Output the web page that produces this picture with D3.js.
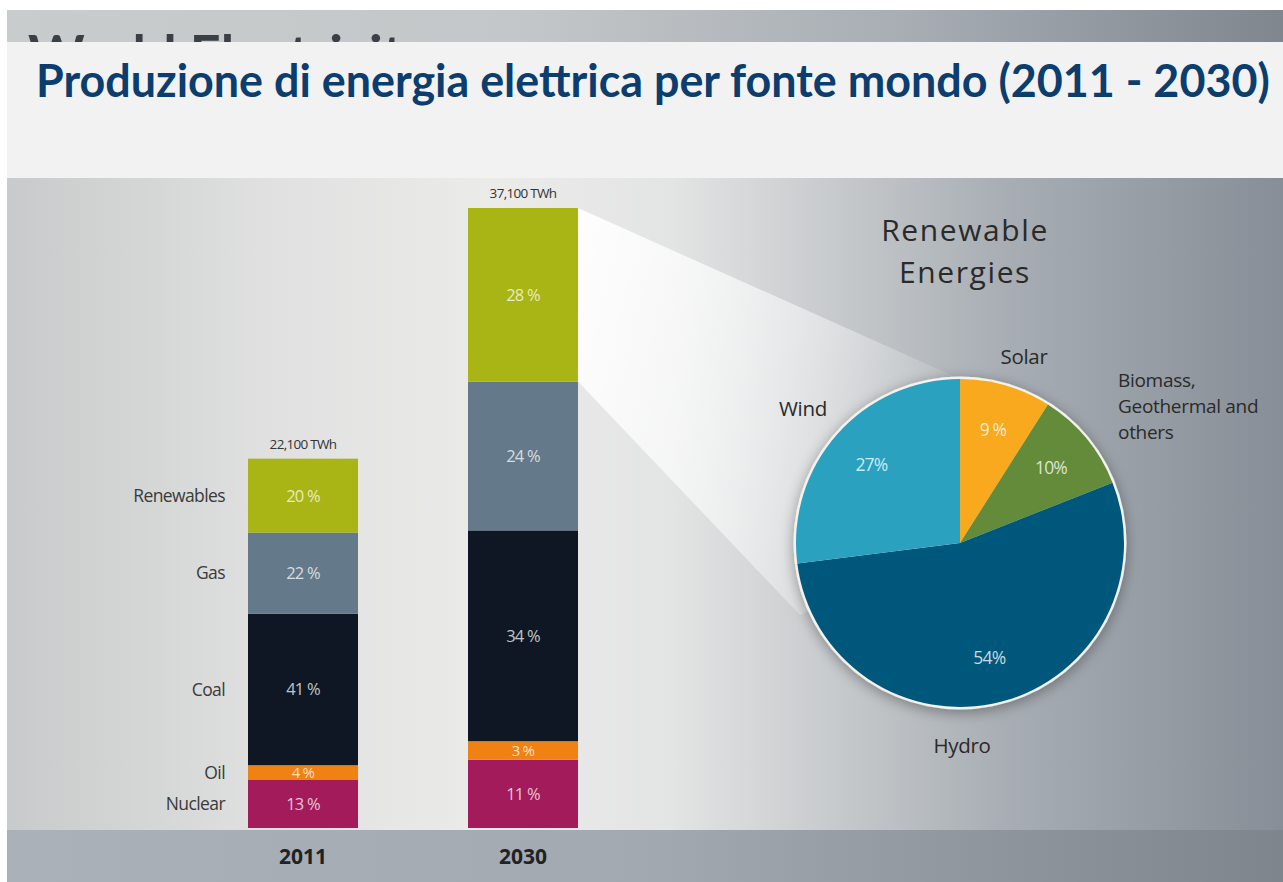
<!DOCTYPE html>
<html>
<head>
<meta charset="utf-8">
<script src="https://cdn.jsdelivr.net/npm/d3@7"></script>
<style>
  body { margin: 0; background: #fff; }
  svg { display: block; }
</style>
</head>
<body>
<script>
'use strict';

// data
const years = ['2011', '2030']
const totals = [22100, 37100] // TWh
const sources = ['Nuclear', 'Oil', 'Coal', 'Gas', 'Renewables'] // bottom -> top
const share2011 = [13, 4, 41, 22, 20]
const share2030 = [11, 3, 34, 24, 28]
const renewables = ['Solar', 'Biomass', 'Hydro', 'Wind']
const renewShare = [9, 10, 54, 27]
const renewLabels = ['9 %', '10%', '54%', '27%']

const colors = {
  Nuclear: '#a31b5b',
  Oil: '#f08214',
  Coal: '#0e1723',
  Gas: '#647a8a',
  Renewables: '#a9b514',
  Solar: '#f8a91d',
  Biomass: '#638b3a',
  Hydro: '#00577c',
  Wind: '#2aa1bf'
}

const m = {
  width: 1283,
  height: 882,
  left: 7,
  top: 10,
  bodyTop: 178,
  stripTop: 830
}

let svg = d3.select('body')
  .append('svg')
  .attr('width', m.width)
  .attr('height', m.height)

let defs = svg.append('defs')

// gradients for the backdrop
function hGradient(id, stops) {
  let g = defs.append('linearGradient').attr('id', id)
    .attr('x1', 0).attr('x2', 1).attr('y1', 0).attr('y2', 0)
  stops.forEach((s) => g.append('stop').attr('offset', s[0]).attr('stop-color', s[1]))
}
hGradient('bgMain', [[0, '#c8cbcb'], [0.2, '#dfe0df'], [0.38, '#ebebea'], [0.52, '#e3e4e4'],
  [0.64, '#c9ccce'], [0.78, '#a8aeb4'], [1, '#878e97']])
hGradient('bgTop', [[0, '#c9cccc'], [0.4, '#c4c7c9'], [0.7, '#a8aeb4'], [1, '#80868e']])
hGradient('bgStrip', [[0, '#aab1b8'], [0.5, '#a2a9b0'], [1, '#7e858d']])

let wedgeGrad = defs.append('linearGradient').attr('id', 'wedge')
  .attr('x1', 0).attr('x2', 1).attr('y1', 0).attr('y2', 0.3)
wedgeGrad.append('stop').attr('offset', 0).attr('stop-color', '#fff').attr('stop-opacity', 0.95)
wedgeGrad.append('stop').attr('offset', 0.6).attr('stop-color', '#fff').attr('stop-opacity', 0.5)
wedgeGrad.append('stop').attr('offset', 1).attr('stop-color', '#fff').attr('stop-opacity', 0.1)

defs.append('filter').attr('id', 'shadow')
  .attr('x', '-20%').attr('y', '-20%').attr('width', '140%').attr('height', '140%')
  .append('feDropShadow')
  .attr('dx', 0).attr('dy', 3).attr('stdDeviation', 7)
  .attr('flood-color', '#000').attr('flood-opacity', 0.35)

defs.append('clipPath').attr('id', 'topClip')
  .append('rect').attr('x', m.left).attr('y', m.top)
  .attr('width', m.width - m.left).attr('height', 32)

// backdrop
svg.append('rect').attr('x', m.left).attr('y', m.top)
  .attr('width', m.width - m.left).attr('height', m.bodyTop - m.top)
  .style('fill', 'url(#bgTop)')

// the original slide title, mostly hidden behind the white box
svg.append('g')
  .attr('clip-path', 'url(#topClip)')
  .append('text')
  .attr('x', 28).attr('y', 74)
  .style('font-family', 'Lato, sans-serif')
  .style('font-weight', 'bold')
  .style('font-size', '54px')
  .style('fill', '#3b4047')
  .text('World Electricity')

svg.append('rect').attr('x', m.left).attr('y', 42)
  .attr('width', m.width - m.left).attr('height', m.bodyTop - 42)
  .style('fill', '#f2f2f2')

// title: size the font so the line spans the same width as the reference
let titleText = svg.append('text')
  .attr('x', 36).attr('y', 97)
  .style('font-family', 'Lato, sans-serif')
  .style('font-weight', 'bold')
  .style('font-size', '50px')
  .style('fill', '#0b3d6f')
  .text('Produzione di energia elettrica per fonte mondo (2011 - 2030)')
let natural = titleText.node().getComputedTextLength()
titleText.style('font-size', (50 * 1234 / natural) + 'px')

svg.append('rect').attr('x', m.left).attr('y', m.bodyTop)
  .attr('width', m.width - m.left).attr('height', m.stripTop - m.bodyTop)
  .style('fill', 'url(#bgMain)')
svg.append('rect').attr('x', m.left).attr('y', m.stripTop)
  .attr('width', m.width - m.left).attr('height', m.height - m.stripTop)
  .style('fill', 'url(#bgStrip)')

// scales
let xScale = d3.scaleBand()
  .domain(years)
  .range([193, 633])
  .paddingInner(0.5)
  .paddingOuter(0.25)

let yScale = d3.scaleLinear()
  .domain([0, 37100])
  .range([828, 208])

// stack the shares into TWh segments
function makeSegments(year, total, shares) {
  let acc = 0
  return shares.map((s, i) => {
    let v0 = acc
    acc += total * s / 100
    return { year: year, source: sources[i], share: s, v0: v0, v1: acc }
  })
}
let segs2011 = makeSegments(years[0], totals[0], share2011)
let segs2030 = makeSegments(years[1], totals[1], share2030)
let allSegs = segs2011.concat(segs2030)

// pie geometry
const pie = { cx: 960, cy: 543, r: 164 }
let ren2030 = segs2030[sources.indexOf('Renewables')]
let barRight = xScale(years[1]) + xScale.bandwidth()

// zoom wedge from the 2030 renewables block to the pie
let wedgePts = [
  [barRight, yScale(ren2030.v1)],
  [pie.cx, pie.cy - pie.r],
  [pie.cx, pie.cy],
  [pie.cx - 160, pie.cy + 72],
  [barRight, yScale(ren2030.v0)]
]
svg.append('polygon')
  .attr('points', wedgePts.map((p) => p.join(',')).join(' '))
  .style('fill', 'url(#wedge)')

// bars
svg.selectAll('rect.seg')
  .data(allSegs)
  .enter()
  .append('rect')
  .attr('class', 'seg')
  .attr('x', (d) => xScale(d.year))
  .attr('width', xScale.bandwidth())
  .attr('y', (d) => yScale(d.v1))
  .attr('height', (d) => yScale(d.v0) - yScale(d.v1))
  .style('fill', (d) => colors[d.source])

svg.selectAll('text.pct')
  .data(allSegs)
  .enter()
  .append('text')
  .attr('class', 'pct')
  .attr('x', (d) => xScale(d.year) + xScale.bandwidth() / 2)
  .attr('y', (d) => (yScale(d.v0) + yScale(d.v1)) / 2)
  .attr('dy', '0.36em')
  .attr('text-anchor', 'middle')
  .style('font-family', '"Open Sans", sans-serif')
  .style('font-size', (d) => d.share < 5 ? '15px' : '16.5px')
  .style('letter-spacing', '-0.8px')
  .style('fill', '#fff')
  .style('fill-opacity', 0.75)
  .text((d) => d.share + ' %')

// category names beside the 2011 bar
svg.selectAll('text.cat')
  .data(segs2011)
  .enter()
  .append('text')
  .attr('class', 'cat')
  .attr('x', xScale(years[0]) - 23)
  .attr('y', (d) => (yScale(d.v0) + yScale(d.v1)) / 2)
  .attr('dy', '0.36em')
  .attr('text-anchor', 'end')
  .style('font-family', '"Open Sans", sans-serif')
  .style('font-size', '17.5px')
  .style('letter-spacing', '-0.6px')
  .style('fill', '#3a3a3a')
  .text((d) => d.source)

// totals above bars
svg.selectAll('text.total')
  .data(years)
  .enter()
  .append('text')
  .attr('class', 'total')
  .attr('x', (d) => xScale(d) + xScale.bandwidth() / 2)
  .attr('y', (d, i) => yScale(totals[i]) - 10)
  .attr('text-anchor', 'middle')
  .style('font-family', '"Open Sans", sans-serif')
  .style('font-size', '13.5px')
  .style('letter-spacing', '-0.7px')
  .style('fill', '#333')
  .text((d, i) => d3.format(',')(totals[i]) + ' TWh')

// year axis in the bottom strip
let xAxis = d3.axisBottom(xScale).tickSize(0).tickPadding(0)
let axisG = svg.append('g')
  .attr('transform', 'translate(0, 849)')
  .call(xAxis)
axisG.select('.domain').remove()
axisG.selectAll('text')
  .style('font-family', '"Open Sans", sans-serif')
  .style('font-weight', 'bold')
  .style('font-size', '21px')
  .style('fill', '#222')

// renewable energies pie
let pieGen = d3.pie().sort(null).value((d) => d)
let arcs = pieGen(renewShare)
let arcGen = d3.arc().innerRadius(0).outerRadius(pie.r)
let labelArc = d3.arc().innerRadius(pie.r * 1.44).outerRadius(0)

let pieG = svg.append('g')
  .attr('transform', 'translate(' + pie.cx + ',' + pie.cy + ')')

pieG.append('circle')
  .attr('r', pie.r + 2.5)
  .style('fill', '#f4f2ee')
  .attr('filter', 'url(#shadow)')

pieG.selectAll('path')
  .data(arcs)
  .enter()
  .append('path')
  .attr('d', arcGen)
  .style('fill', (d, i) => colors[renewables[i]])

pieG.selectAll('text.slice')
  .data(arcs)
  .enter()
  .append('text')
  .attr('class', 'slice')
  .attr('transform', (d) => {
    let c = labelArc.centroid(d)
    return 'translate(' + c[0] + ',' + c[1] + ')'
  })
  .attr('dy', '0.36em')
  .attr('text-anchor', 'middle')
  .style('font-family', '"Open Sans", sans-serif')
  .style('font-size', '17.5px')
  .style('letter-spacing', '-0.8px')
  .style('fill', '#fff')
  .style('fill-opacity', 0.78)
  .text((d, i) => renewLabels[i])

// names around the pie
function outerLabel(lines, x, y, anchor, size, gap, spacing) {
  let t = svg.append('text')
    .attr('x', x).attr('y', y)
    .attr('text-anchor', anchor)
    .style('font-family', '"Open Sans", sans-serif')
    .style('font-size', size + 'px')
    .style('letter-spacing', spacing + 'px')
    .style('fill', '#2a2a2a')
  lines.forEach((l, i) => {
    t.append('tspan').attr('x', x).attr('dy', i == 0 ? 0 : gap).text(l)
  })
}
outerLabel(['Solar'], pie.cx + 64, pie.cy - 179, 'middle', 20.5, 0, -0.3)
outerLabel(['Biomass,', 'Geothermal and', 'others'], pie.cx + 158, pie.cy - 156, 'start', 19, 26, -0.3)
outerLabel(['Wind'], pie.cx - 157, pie.cy - 127, 'middle', 20.5, 0, -0.3)
outerLabel(['Hydro'], pie.cx + 2, pie.cy + 210, 'middle', 20.5, 0, -0.3)

// pie heading
outerLabel(['Renewable', 'Energies'], 965, 241, 'middle', 30, 41.5, 1.6)
</script>
</body>
</html>
